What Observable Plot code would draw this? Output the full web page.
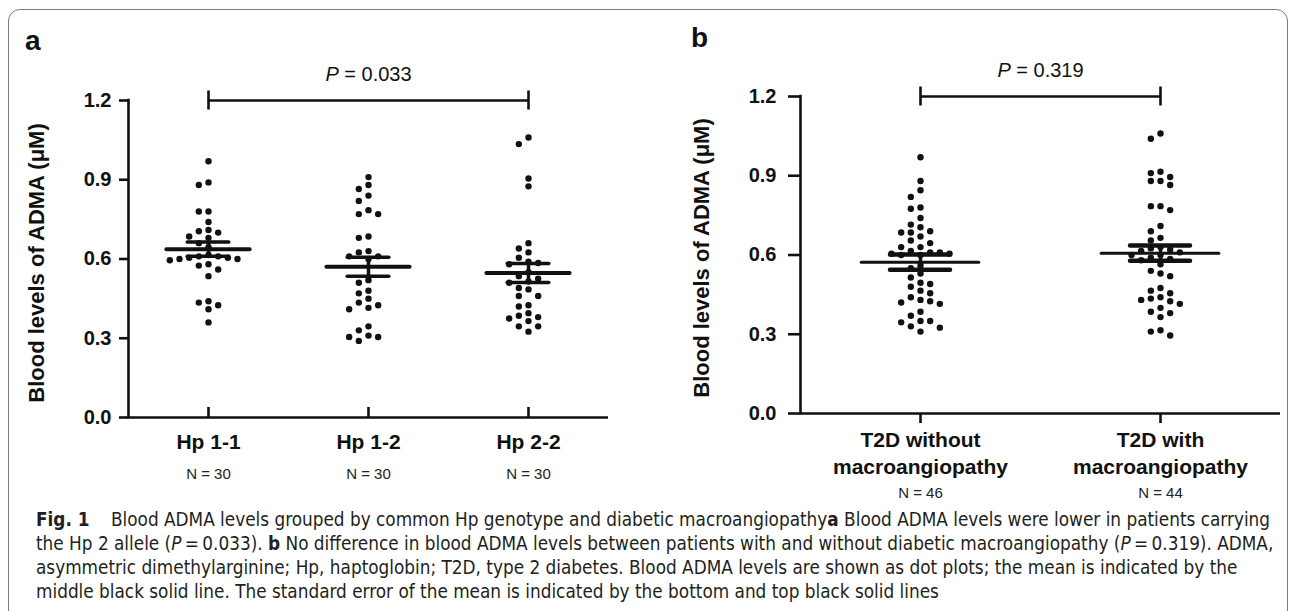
<!DOCTYPE html>
<html><head><meta charset="utf-8">
<script src="https://cdn.jsdelivr.net/npm/d3@7"></script>
<script src="https://cdn.jsdelivr.net/npm/@observablehq/plot@0.6"></script>
<style>
html,body{margin:0;padding:0;background:#fff;}
body{width:1292px;height:611px;overflow:hidden;position:relative;font-family:"Liberation Sans",Arial,sans-serif;color:#111;}
#frame{position:absolute;left:8px;top:9px;width:1280px;height:700px;border:1.5px solid #7a7a7a;border-radius:12px;box-sizing:border-box;}
.panel{position:absolute;top:0;}
.letter{position:absolute;font-weight:bold;font-size:28px;line-height:1;}
#caption{position:absolute;left:36px;top:508px;font-size:17px;line-height:24px;color:#231f20;white-space:nowrap;font-family:"Liberation Sans Narrow","DejaVu Sans Condensed","Liberation Sans",sans-serif;}
#caption div{white-space:nowrap;}
</style></head><body>
<div id="frame"></div>
<div id="panelA" class="panel" style="left:0px"></div>
<div id="panelB" class="panel" style="left:646px"></div>
<div class="letter" style="left:25px;top:27px">a</div>
<div class="letter" style="left:691px;top:24px">b</div>
<div id="caption">
<div id="cap1"><b>Fig. 1</b>&nbsp;&nbsp;&nbsp; Blood ADMA levels grouped by common Hp genotype and diabetic macroangiopathy<b>a</b> Blood ADMA levels were lower in patients carrying</div>
<div>the Hp 2 allele (<i>P</i>&#8201;=&#8201;0.033). <b>b</b> No difference in blood ADMA levels between patients with and without diabetic macroangiopathy (<i>P</i>&#8201;=&#8201;0.319). ADMA,</div>
<div>asymmetric dimethylarginine; Hp, haptoglobin; T2D, type 2 diabetes. Blood ADMA levels are shown as dot plots; the mean is indicated by the</div>
<div>middle black solid line. The standard error of the mean is indicated by the bottom and top black solid lines</div>
</div>
<script>
// ---------- data ----------
const yTitle = "Blood levels of ADMA (\u03bcM)";
const yTicks = [0, 0.3, 0.6, 0.9, 1.2];
const yDomain = [0, 1.2];

const groupsA = ["Hp 1-1", "Hp 1-2", "Hp 2-2"];
const countsA = [30, 30, 30];
const hp11 = [0.97, 0.89, 0.88, 0.78, 0.78, 0.74, 0.71, 0.705, 0.70, 0.685, 0.68, 0.66, 0.645, 0.615, 0.61, 0.61, 0.605, 0.60, 0.60, 0.605, 0.595, 0.58, 0.575, 0.56, 0.535, 0.44, 0.435, 0.425, 0.41, 0.36];
const hp12 = [0.91, 0.88, 0.865, 0.84, 0.82, 0.785, 0.77, 0.77, 0.685, 0.68, 0.63, 0.625, 0.61, 0.61, 0.60, 0.52, 0.51, 0.48, 0.47, 0.45, 0.435, 0.425, 0.415, 0.41, 0.345, 0.31, 0.305, 0.305, 0.33, 0.29];
const hp22 = [1.06, 1.035, 0.905, 0.875, 0.66, 0.64, 0.625, 0.605, 0.59, 0.585, 0.58, 0.55, 0.515, 0.51, 0.535, 0.525, 0.49, 0.485, 0.46, 0.46, 0.425, 0.42, 0.395, 0.385, 0.38, 0.375, 0.365, 0.345, 0.345, 0.325];
const meansA = [0.637, 0.571, 0.547];
const semA = [0.027, 0.036, 0.036];
const pLabelA = "P = 0.033";
const pValueY = 1.2;

const groupsB = ["T2D without\nmacroangiopathy", "T2D with\nmacroangiopathy"];
const countsB = [46, 44];
const withoutMacro = [0.97, 0.88, 0.845, 0.82, 0.78, 0.775, 0.74, 0.715, 0.705, 0.69, 0.685, 0.685, 0.67, 0.655, 0.645, 0.63, 0.63, 0.615, 0.61, 0.61, 0.605, 0.605, 0.60, 0.60, 0.56, 0.55, 0.53, 0.515, 0.495, 0.49, 0.48, 0.465, 0.455, 0.44, 0.43, 0.425, 0.42, 0.415, 0.385, 0.37, 0.35, 0.35, 0.345, 0.33, 0.325, 0.31];
const withMacro = [1.06, 1.04, 0.915, 0.91, 0.895, 0.88, 0.88, 0.865, 0.785, 0.785, 0.77, 0.71, 0.69, 0.665, 0.655, 0.63, 0.625, 0.62, 0.615, 0.61, 0.60, 0.60, 0.59, 0.585, 0.58, 0.565, 0.54, 0.53, 0.52, 0.475, 0.465, 0.455, 0.44, 0.435, 0.43, 0.425, 0.415, 0.40, 0.385, 0.38, 0.365, 0.315, 0.31, 0.295];
const meansB = [0.573, 0.607];
const semB = [0.029, 0.029];
const pLabelB = "P = 0.319";

// ---------- drawing ----------
const FONT = "'Liberation Sans', Arial, sans-serif";
const INK = "#111";

function panel(cfg) {
  const n = cfg.groups.length;
  const frameW = cfg.width - cfg.marginLeft - cfg.marginRight;
  const pxPerGroup = frameW / n;
  const pxPerY = cfg.frameH / (yDomain[1] - yDomain[0]);
  const xDomain = [-0.5, n - 0.5];

  // GraphPad-like column swarm
  const rows = [];
  cfg.series.forEach((vals, gi) => {
    const cols = new Map();
    const sorted = vals.slice().sort((a, b) => b - a);
    for (const v of sorted) {
      for (let k = 0; k < 40; k++) {
        const col = k === 0 ? 0 : (k % 2 ? -Math.ceil(k / 2) : Math.ceil(k / 2));
        const used = cols.get(col) || [];
        if (used.every(w => Math.abs(w - v) * pxPerY >= cfg.minGap)) {
          used.push(v); cols.set(col, used);
          rows.push({g: gi, value: v, x: gi + col * cfg.step / pxPerGroup});
          break;
        }
      }
    }
  });

  const stats = cfg.groups.map((name, i) => ({i, name, n: cfg.counts[i], mean: cfg.means[i], sem: cfg.sems[i]}));
  const idx = stats.map(d => d.i);
  const bracket = [{from: 0, to: n - 1, y: pValueY, label: cfg.pLabel}];
  const capHalf = 9.5 / pxPerY;
  const xTickLen = cfg.xTickDir * 10 / pxPerY;

  const svg = Plot.plot({
    width: cfg.width,
    height: cfg.marginTop + cfg.frameH + cfg.marginBottom,
    marginLeft: cfg.marginLeft, marginRight: cfg.marginRight,
    marginTop: cfg.marginTop, marginBottom: cfg.marginBottom,
    x: {domain: xDomain, axis: null},
    y: {domain: yDomain},
    style: {fontFamily: FONT, color: INK, background: "transparent", overflow: "visible"},
    marks: [
      Plot.ruleX([xDomain[0]], {y1: yDomain[0], y2: yDomain[1], stroke: INK, strokeWidth: 2.6, strokeLinecap: "square"}),
      Plot.ruleY([yDomain[0]], {x1: xDomain[0], x2: xDomain[1], stroke: INK, strokeWidth: 2.6}),
      Plot.axisY({ticks: yTicks, tickFormat: d => d.toFixed(1), tickSize: cfg.yTickSize, tickPadding: cfg.yTickPad,
        fontSize: 20, fontWeight: "bold", stroke: INK, strokeWidth: 2.6, label: null, fill: INK}),
      Plot.ruleX(idx, {x: d => d, y1: 0, y2: xTickLen, stroke: INK, strokeWidth: 2.6}),
      Plot.text(stats, {x: "i", text: "name", frameAnchor: "bottom", lineAnchor: "bottom", dy: cfg.labelDy,
        fontSize: 21, fontWeight: "bold", lineHeight: cfg.lineHeight, fill: INK}),
      Plot.text(stats, {x: "i", text: d => `N = ${d.n}`, frameAnchor: "bottom", lineAnchor: "bottom", dy: cfg.nDy,
        fontSize: 15, fill: "#222"}),
      Plot.text([yTitle], {text: d => d, frameAnchor: "left", rotate: -90, dx: cfg.titleDx, dy: cfg.titleDy,
        textAnchor: "middle", lineAnchor: "middle", fontSize: 22, fontWeight: "bold", fill: INK}),
      Plot.dot(rows, {x: "x", y: "value", r: 3.2, fill: INK, stroke: null}),
      Plot.ruleY(stats, {x1: d => d.i - cfg.meanHalf, x2: d => d.i + cfg.meanHalf, y: "mean", stroke: INK, strokeWidth: cfg.meanW, strokeLinecap: "round"}),
      Plot.ruleY(stats, {x1: d => d.i - cfg.semHalf, x2: d => d.i + cfg.semHalf, y: d => d.mean + d.sem, stroke: INK, strokeWidth: cfg.semW, strokeLinecap: "round"}),
      Plot.ruleY(stats, {x1: d => d.i - cfg.semHalf, x2: d => d.i + cfg.semHalf, y: d => d.mean - d.sem, stroke: INK, strokeWidth: cfg.semW, strokeLinecap: "round"}),
      Plot.ruleX(stats, {x: "i", y1: d => d.mean - d.sem, y2: d => d.mean + d.sem, stroke: INK, strokeWidth: 3.5}),
      Plot.ruleY(bracket, {x1: "from", x2: "to", y: "y", stroke: INK, strokeWidth: 2.6}),
      Plot.ruleX(bracket.flatMap(b => [{x: b.from, y: b.y}, {x: b.to, y: b.y}]), {x: "x", y1: d => d.y - capHalf, y2: d => d.y + capHalf, stroke: INK, strokeWidth: 2.6}),
      Plot.text(bracket, {x: d => (d.from + d.to) / 2, y: "y", text: "label", lineAnchor: "bottom", dy: -20, fontSize: 20, fill: INK})
    ]
  });
  // italic P in the p-value label
  svg.querySelectorAll("text").forEach(t => {
    if (/^P = /.test(t.textContent)) {
      const rest = t.textContent.slice(1);
      t.textContent = "";
      const a = document.createElementNS("http://www.w3.org/2000/svg", "tspan");
      a.setAttribute("font-style", "italic"); a.textContent = "P";
      const b = document.createElementNS("http://www.w3.org/2000/svg", "tspan");
      b.textContent = rest;
      t.append(a, b);
    }
  });
  return svg;
}

document.getElementById("panelA").append(panel({
  groups: groupsA, counts: countsA, series: [hp11, hp12, hp22], means: meansA, sems: semA, pLabel: pLabelA,
  width: 640, marginLeft: 128, marginRight: 32, marginTop: 100, frameH: 317, marginBottom: 85,
  step: 9.67, minGap: 6.8, meanHalf: 0.26, semHalf: 0.13, meanW: 4, semW: 3.5,
  yTickSize: 9, yTickPad: 8, xTickDir: 1, labelDy: 31, nDy: 61, lineHeight: 1.24, titleDx: -92, titleDy: 4
}));
document.getElementById("panelB").append(panel({
  groups: groupsB, counts: countsB, series: [withoutMacro, withMacro], means: meansB, sems: semB, pLabel: pLabelB,
  width: 646, marginLeft: 154, marginRight: 12, marginTop: 96, frameH: 317, marginBottom: 100,
  step: 9.67, minGap: 6.8, meanHalf: 0.245, semHalf: 0.125, meanW: 3, semW: 4.5,
  yTickSize: 12, yTickPad: 12, xTickDir: -1, labelDy: 60, nDy: 84, lineHeight: 1.24, titleDx: -99, titleDy: 3
}));

// fit caption line 1 to its width in the reference
const cap1 = document.getElementById("cap1");
const cap = document.getElementById("caption");
const target = 1238;
const w = cap1.getBoundingClientRect().width;
const fs = 17 * target / w;
cap.style.fontSize = Math.min(19, fs).toFixed(2) + "px";
</script>
</body></html>
